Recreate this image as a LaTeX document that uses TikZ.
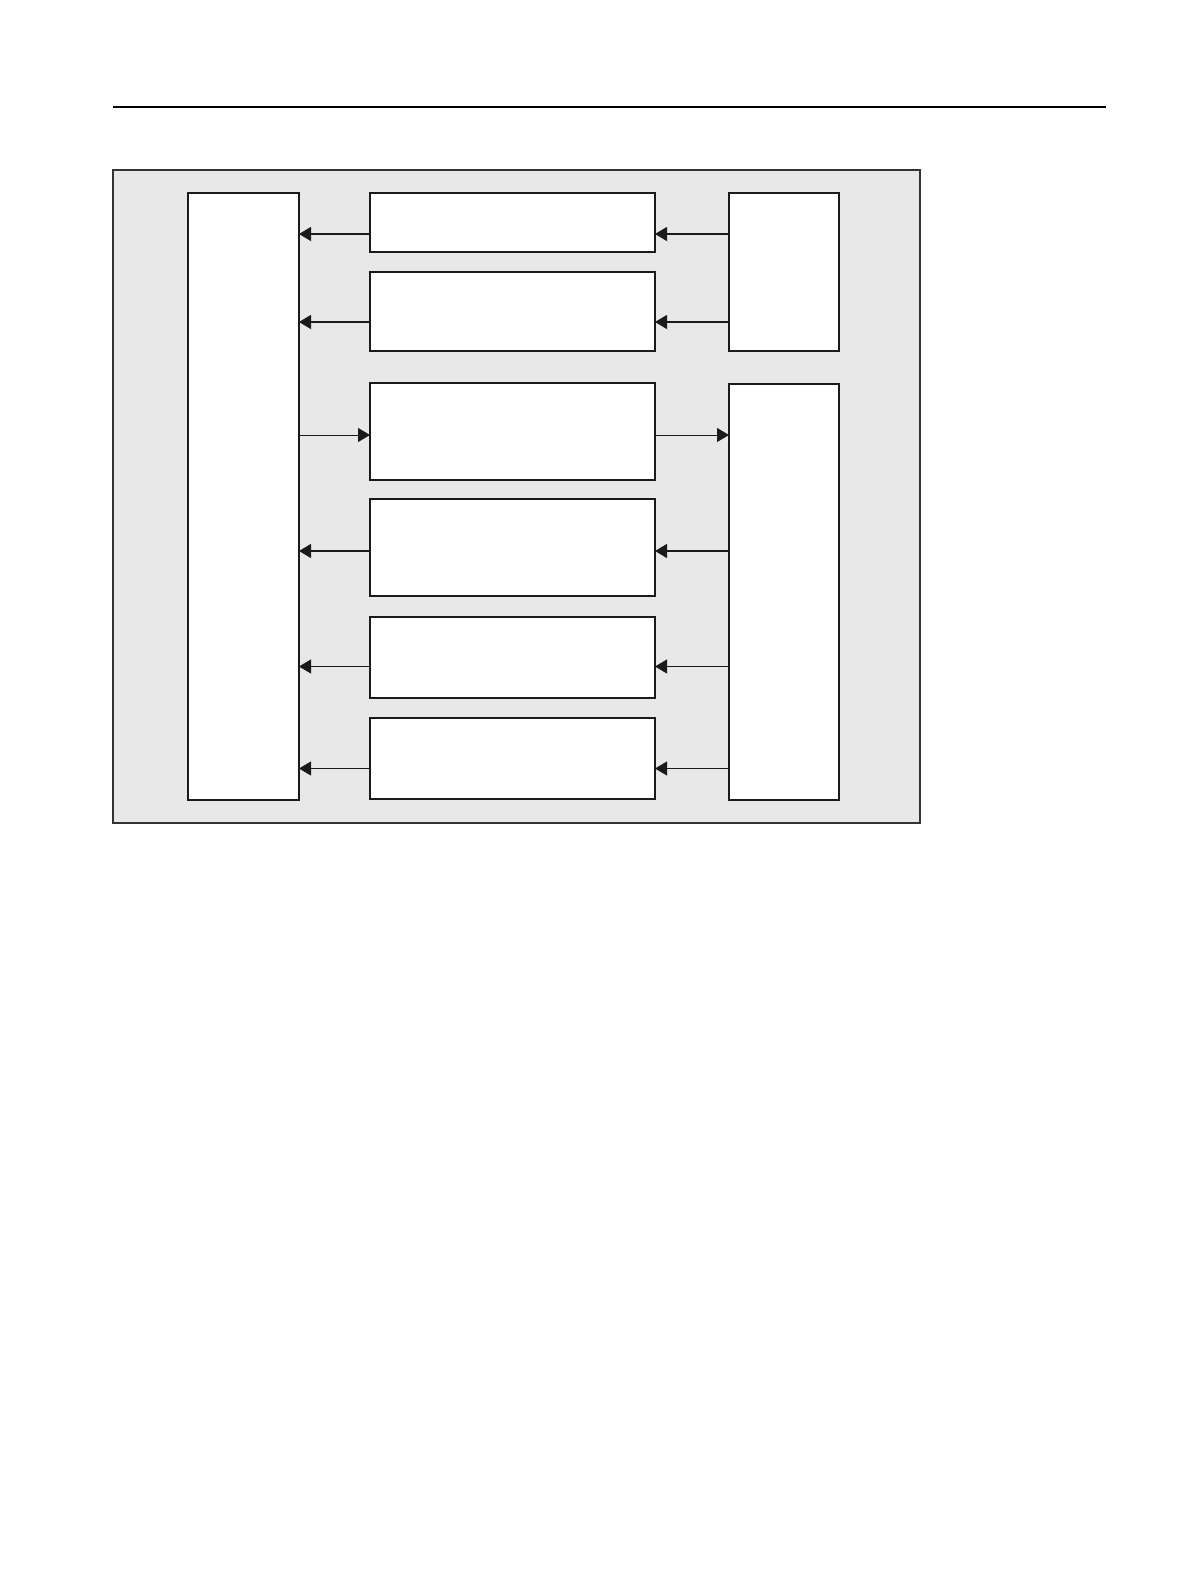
\documentclass[tikz,border=0pt]{standalone}
\usetikzlibrary{arrows.meta,fit}
\definecolor{panel}{HTML}{E8E8E8}
\definecolor{edge}{HTML}{1A1A1A}
\begin{document}
\begin{tikzpicture}[x=0.5pt,y=-0.5pt,
  box/.style={draw=edge,fill=white,line width=0.85pt,inner sep=0pt,outer sep=0pt},
  thinbox/.style={box,line width=0.6pt},
  heavy/.style={draw=edge,line width=0.75pt,-{Triangle[length=6pt,width=7pt]}},
  light/.style={draw=edge,line width=0.45pt,-{Triangle[length=6pt,width=7pt]}}]
\useasboundingbox (0,0) rectangle (1190,1584);
% header rule
\coordinate (ra) at (113,107);
\coordinate (rb) at (1106,107);
\draw[line width=0.6pt,black] (ra) -- (rb);
% panel
\node[draw=black!80,fill=panel,line width=0.55pt,inner sep=0pt,outer sep=0pt,
  fit={(113,170) (920,823)}] (P) {};
% boxes
\node[box,fit={(188,193) (299,800)}] (L) {};
\node[box,fit={(370,193) (655,252)}] (M1) {};
\node[thinbox,fit={(370,272) (655,351)}] (M2) {};
\node[thinbox,fit={(370,383) (655,480)}] (M3) {};
\node[thinbox,fit={(370,499) (655,596)}] (M4) {};
\node[thinbox,fit={(370,617) (655,698)}] (M5) {};
\node[thinbox,fit={(370,718) (655,799)}] (M6) {};
\node[box,fit={(729,193) (839,351)}] (R1) {};
\node[box,fit={(729,384) (839,800)}] (R2) {};
% arrow rows
\coordinate (y1) at (0,234);
\coordinate (y2) at (0,322);
\coordinate (y3) at (0,435);
\coordinate (y4) at (0,551);
\coordinate (y5) at (0,666.5);
\coordinate (y6) at (0,768.5);
\draw[heavy] (M1.west |- y1) -- (L.east |- y1);
\draw[heavy] (R1.west |- y1) -- (M1.east |- y1);
\draw[heavy] (M2.west |- y2) -- (L.east |- y2);
\draw[heavy] (R1.west |- y2) -- (M2.east |- y2);
\draw[light] (L.east |- y3) -- (M3.west |- y3);
\draw[light] (M3.east |- y3) -- (R2.west |- y3);
\draw[heavy] (M4.west |- y4) -- (L.east |- y4);
\draw[heavy] (R2.west |- y4) -- (M4.east |- y4);
\draw[light] (M5.west |- y5) -- (L.east |- y5);
\draw[light] (R2.west |- y5) -- (M5.east |- y5);
\draw[light] (M6.west |- y6) -- (L.east |- y6);
\draw[light] (R2.west |- y6) -- (M6.east |- y6);
\end{tikzpicture}
\end{document}
